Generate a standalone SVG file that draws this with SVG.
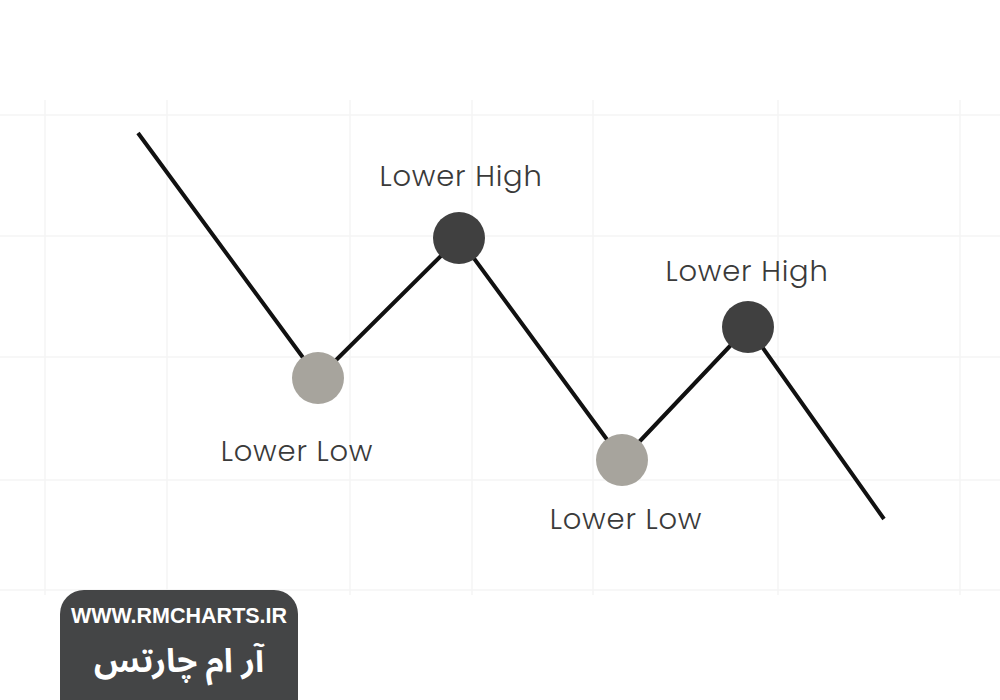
<svg xmlns="http://www.w3.org/2000/svg" width="1000" height="700" viewBox="0 0 1000 700">
<style>
.grid line{stroke:#f5f5f5;stroke-width:1.5}
.lbl{font-family:"Poppins","Noto Sans","Liberation Sans",sans-serif;font-size:29px;font-weight:300;letter-spacing:0.8px;fill:#3a3a3a;text-anchor:middle}
.low{fill:#a7a49d}
.high{fill:#404040}
</style>
<rect width="1000" height="700" fill="#ffffff"/>
<g class="grid">
<line x1="45" y1="100" x2="45" y2="595"/>
<line x1="167" y1="100" x2="167" y2="595"/>
<line x1="350" y1="100" x2="350" y2="595"/>
<line x1="472" y1="100" x2="472" y2="595"/>
<line x1="593" y1="100" x2="593" y2="595"/>
<line x1="778" y1="100" x2="778" y2="595"/>
<line x1="960" y1="100" x2="960" y2="595"/>
<line x1="0" y1="115" x2="1000" y2="115"/>
<line x1="0" y1="236" x2="1000" y2="236"/>
<line x1="0" y1="357" x2="1000" y2="357"/>
<line x1="0" y1="480" x2="1000" y2="480"/>
<line x1="0" y1="590" x2="1000" y2="590"/>
</g>
<g id="connectors">
<polyline points="138,133 318,378 459,238 622,460 748,327 884,519" fill="none" stroke="#111" stroke-width="4" stroke-linejoin="round"/>
</g>
<g id="low1"><circle class="low" cx="318" cy="378" r="26"/><text class="lbl" x="297" y="461">Lower Low</text></g>
<g id="high1"><circle class="high" cx="459" cy="238" r="26"/><text class="lbl" x="461" y="186">Lower High</text></g>
<g id="low2"><circle class="low" cx="622" cy="460" r="26"/><text class="lbl" x="626" y="529">Lower Low</text></g>
<g id="high2"><circle class="high" cx="748" cy="327" r="26"/><text class="lbl" x="747" y="281">Lower High</text></g>
<g id="badge">
<rect x="60" y="590" width="238" height="140" rx="24" fill="#444546"/>
<text x="179" y="623" font-family="Liberation Sans, Arial, sans-serif" font-weight="bold" font-size="21.5" fill="#ffffff" text-anchor="middle">WWW.RMCHARTS.IR</text>
<text x="179" y="672" font-family="Noto Sans Arabic, Noto Sans, DejaVu Sans, sans-serif" font-weight="bold" font-size="33" fill="#ffffff" text-anchor="middle" direction="rtl">آر ام چارتس</text>
</g>
</svg>
